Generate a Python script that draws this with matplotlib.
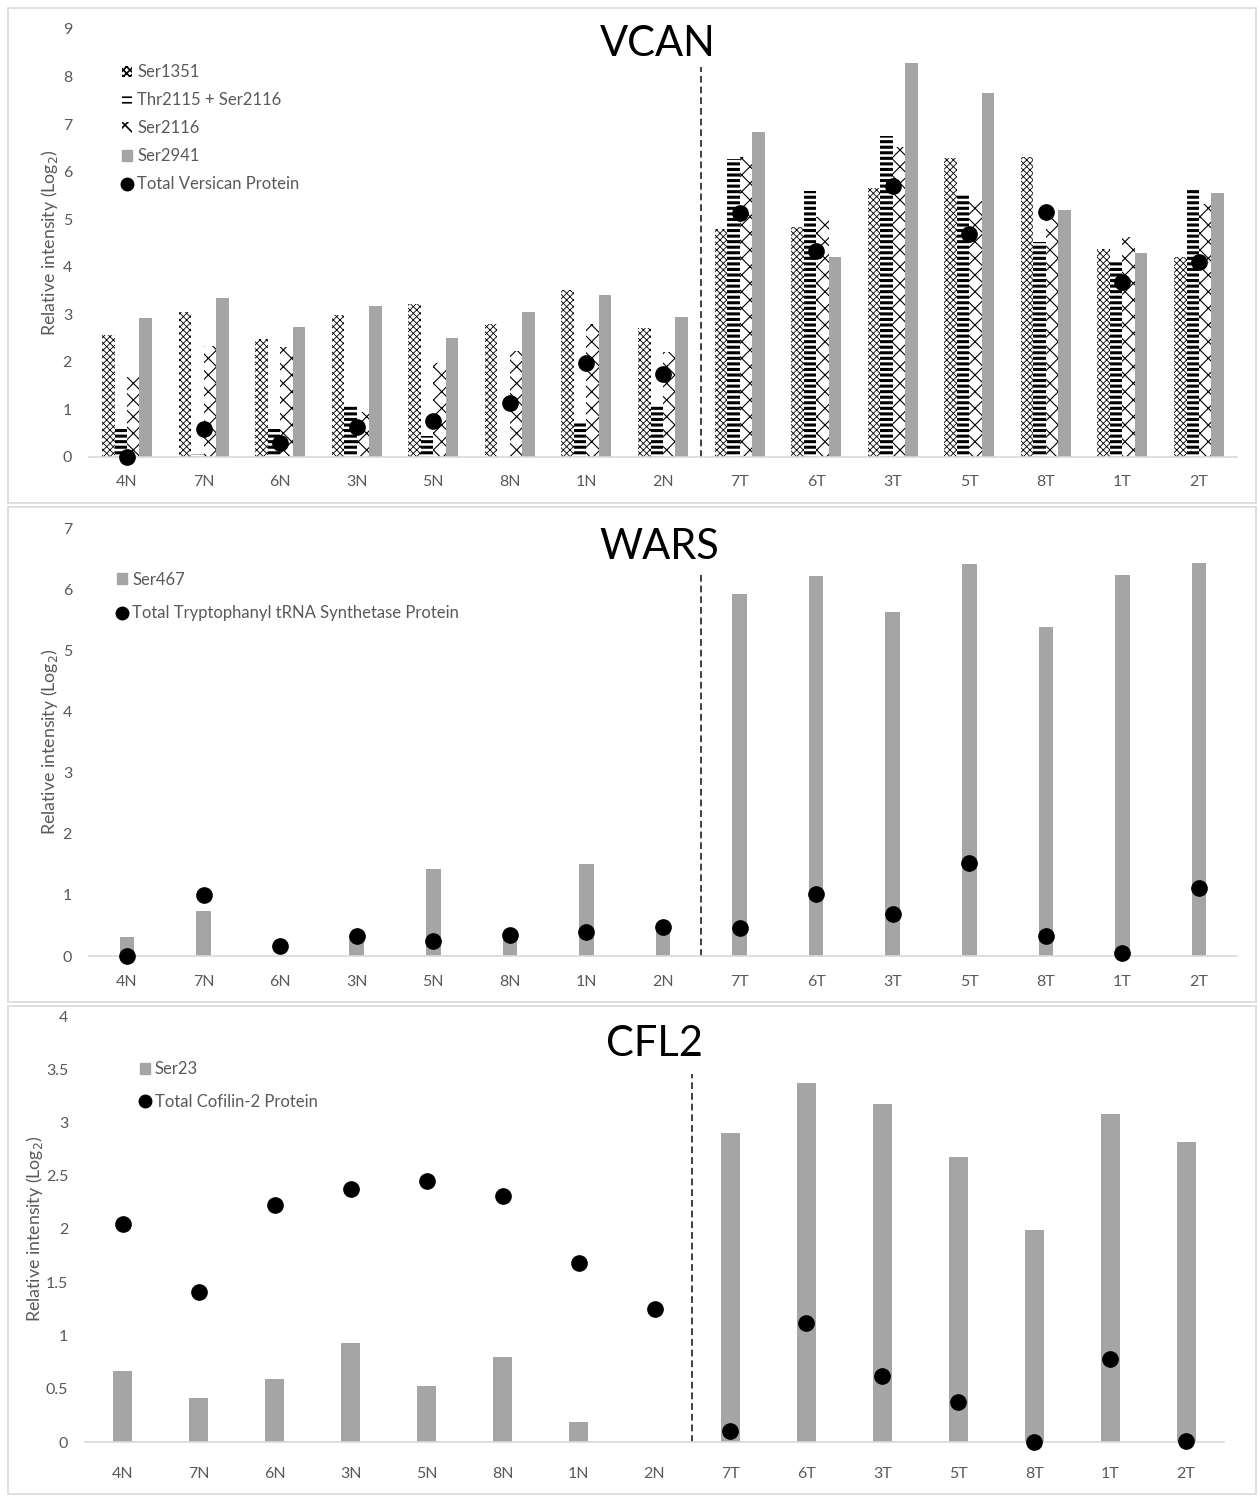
import matplotlib.pyplot as plt
import numpy as np
from matplotlib.patches import Patch, Rectangle
from matplotlib.lines import Line2D

plt.rcParams["font.family"] = ["Lato", "DejaVu Sans"]

samples = ["4N", "7N", "6N", "3N", "5N", "8N", "1N", "2N",
           "7T", "6T", "3T", "5T", "8T", "1T", "2T"]

# VCAN phosphosites (log2 relative intensity)
vcan_ser1351 = [2.56, 3.05, 2.48, 2.99, 3.22, 2.79, 3.51, 2.71,
                4.79, 4.84, 5.66, 6.29, 6.31, 4.37, 4.20]
vcan_thr2115_ser2116 = [0.59, 0.06, 0.59, 1.09, 0.44, 0.0, 0.71, 1.09,
                        6.27, 5.59, 6.75, 5.51, 4.52, 4.10, 5.66]
vcan_ser2116 = [1.68, 2.33, 2.31, 0.95, 1.97, 2.23, 2.80, 2.21,
                6.31, 5.05, 6.52, 5.38, 5.05, 4.63, 5.32]
vcan_ser2941 = [2.92, 3.34, 2.73, 3.18, 2.50, 3.05, 3.40, 2.94,
                6.83, 4.20, 8.28, 7.65, 5.19, 4.29, 5.55]
vcan_total = [0.0, 0.59, 0.29, 0.63, 0.76, 1.13, 1.98, 1.75,
              5.13, 4.33, 5.70, 4.69, 5.15, 3.68, 4.10]

# WARS
wars_ser467 = [0.31, 0.73, 0.0, 0.32, 1.43, 0.32, 1.51, 0.53,
               5.92, 6.21, 5.63, 6.41, 5.38, 6.23, 6.43]
wars_total = [0.0, 0.99, 0.16, 0.32, 0.24, 0.35, 0.40, 0.48,
              0.46, 1.01, 0.69, 1.52, 0.33, 0.05, 1.11]

# CFL2
cfl2_ser23 = [0.67, 0.41, 0.59, 0.93, 0.53, 0.80, 0.19, 0.0,
              2.90, 3.37, 3.17, 2.68, 1.99, 3.08, 2.82]
cfl2_total = [2.05, 1.41, 2.23, 2.38, 2.45, 2.31, 1.68, 1.25,
              0.10, 1.12, 0.62, 0.38, 0.0, 0.78, 0.01]

GRAY = "#a5a5a5"
TXT = "#595959"
AXIS = "#d9d9d9"
W, H = 1258, 1496

fig = plt.figure(figsize=(W / 100, H / 100), dpi=100)


def fig_box(x0, y0, x1, y1):
    # pixel box (top-left origin) -> figure fraction rect
    return [x0 / W, 1 - y1 / H, (x1 - x0) / W, (y1 - y0) / H]


# chart area borders
for y0, y1 in [(8, 503), (507, 1002), (1006, 1494)]:
    fig.patches.append(Rectangle((8 / W, 1 - y1 / H), 1248 / W, (y1 - y0) / H,
                                 transform=fig.transFigure, fill=False,
                                 edgecolor=AXIS, lw=1.2))


def style_axes(ax, ymax, yticks, ticklabels, ylabel_x, xpad):
    x = np.arange(len(samples))
    ax.set_xlim(-0.5, len(samples) - 0.5)
    ax.set_ylim(0, ymax)
    ax.set_xticks(x)
    ax.set_xticklabels(samples, color=TXT, fontsize=11.5)
    ax.set_yticks(yticks)
    ax.set_yticklabels(ticklabels, color=TXT, fontsize=11.5)
    ax.tick_params(length=0)
    ax.tick_params(axis="x", pad=xpad)
    ax.tick_params(axis="y", pad=12)
    for s in ["top", "right", "left"]:
        ax.spines[s].set_visible(False)
    ax.spines["bottom"].set_color(AXIS)
    ax.spines["bottom"].set_linewidth(1.2)
    ax.set_ylabel("Relative intensity (Log$_2$)", color=TXT, fontsize=12.8)
    ax.yaxis.set_label_coords(ylabel_x, 0.5)


def divider(ax, top):
    ax.plot([7.5, 7.5], [0, top], color="#404040", lw=1.4,
            linestyle=(0, (3.5, 2)), zorder=1)


legend_kw = dict(loc="upper left", frameon=False, fontsize=12, labelcolor=TXT,
                 handlelength=0.6, handleheight=0.6, handletextpad=0.3,
                 borderpad=0, borderaxespad=0)

# ---- VCAN ----
ax1 = fig.add_axes(fig_box(88.7, 29, 1237.3, 457))
x = np.arange(len(samples))
bw = 0.163
vcan_series = [
    (vcan_ser1351, "Ser1351", "xxxxx", 0.6),
    (vcan_thr2115_ser2116, "Thr2115 + Ser2116", "---", 2.2),
    (vcan_ser2116, "Ser2116", "xx", 0.8),
]
handles = []
for i, (vals, name, hatch, hlw) in enumerate(vcan_series):
    with plt.rc_context({"hatch.linewidth": hlw}):
        ax1.bar(x + (i - 1.5) * bw, vals, bw, facecolor="white", hatch=hatch,
                edgecolor="black", lw=0, zorder=2)
        handles.append(Patch(facecolor="white", hatch=hatch, edgecolor="black",
                             lw=0, label=name))
ax1.bar(x + 1.5 * bw, vcan_ser2941, bw, color=GRAY, lw=0, zorder=2)
handles.append(Patch(color=GRAY, label="Ser2941"))
ax1.plot(x, vcan_total, "o", color="black", ms=11, zorder=4, clip_on=False)
handles.append(Line2D([], [], marker="o", ls="", color="black", ms=9,
                      label="Total Versican Protein"))
divider(ax1, 8.2)
style_axes(ax1, 9, range(10), [str(v) for v in range(10)], -0.025, 13.2)
ax1.text(0.495, 0.965, "VCAN", transform=ax1.transAxes, ha="center",
         va="center", fontsize=30)
with plt.rc_context({"hatch.linewidth": 1.2}):
    ax1.legend(handles=handles, bbox_to_anchor=(0.029, 0.918),
               labelspacing=0.72, **legend_kw)

# ---- WARS ----
ax2 = fig.add_axes(fig_box(88.7, 528, 1237.3, 956))
ax2.bar(x, wars_ser467, 0.19, color=GRAY, zorder=2)
ax2.plot(x, wars_total, "o", color="black", ms=11, zorder=4, clip_on=False)
divider(ax2, 6.3)
style_axes(ax2, 7, range(8), [str(v) for v in range(8)], -0.025, 14)
ax2.text(0.497, 0.955, "WARS", transform=ax2.transAxes, ha="center",
         va="center", fontsize=30)
ax2.legend(handles=[Patch(color=GRAY, label="Ser467"),
                    Line2D([], [], marker="o", ls="", color="black", ms=9,
                           label="Total Tryptophanyl tRNA Synthetase Protein")],
           bbox_to_anchor=(0.025, 0.898), labelspacing=1.05, **legend_kw)

# ---- CFL2 ----
ax3 = fig.add_axes(fig_box(85, 1016, 1224, 1442))
ax3.bar(x, cfl2_ser23, 0.25, color=GRAY, zorder=2)
ax3.plot(x, cfl2_total, "o", color="black", ms=11, zorder=4, clip_on=False)
divider(ax3, 3.46)
cfl_ticks = np.arange(0, 4.01, 0.5)
style_axes(ax3, 4, cfl_ticks, ["0", "0.5", "1", "1.5", "2", "2.5", "3", "3.5", "4"],
           -0.035, 18.2)
ax3.text(0.5, 0.935, "CFL2", transform=ax3.transAxes, ha="center",
         va="center", fontsize=30)
ax3.legend(handles=[Patch(color=GRAY, label="Ser23"),
                    Line2D([], [], marker="o", ls="", color="black", ms=9,
                           label="Total Cofilin-2 Protein")],
           bbox_to_anchor=(0.048, 0.894), labelspacing=1.0, **legend_kw)

fig.savefig("out.png", dpi=100)
